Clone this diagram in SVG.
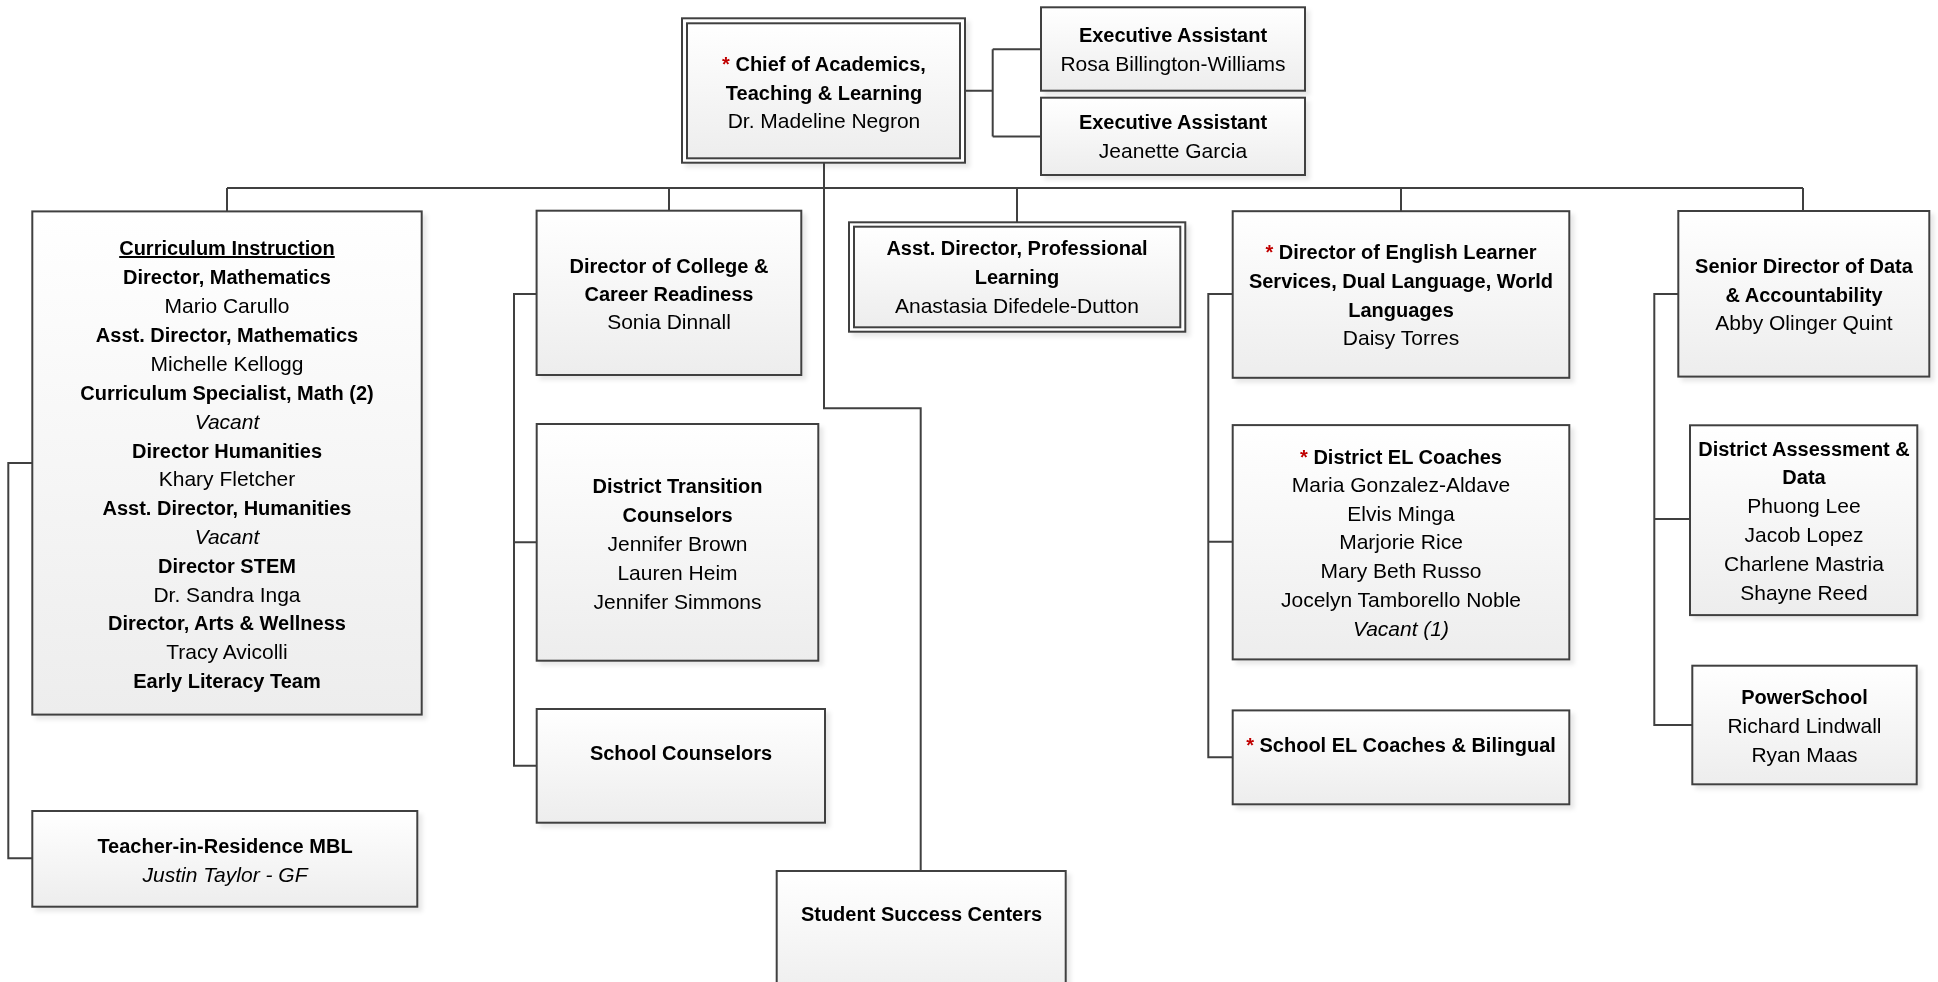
<svg xmlns="http://www.w3.org/2000/svg" width="1938" height="982" viewBox="0 0 1938 982">
<defs>
<linearGradient id="g" x1="0" y1="0" x2="0" y2="1">
<stop offset="0" stop-color="#ffffff"/>
<stop offset="1" stop-color="#ededed"/>
</linearGradient>
<filter id="sh" x="-5%" y="-5%" width="115%" height="115%">
<feDropShadow dx="4" dy="4" stdDeviation="2" flood-color="#000" flood-opacity="0.09"/>
</filter>
</defs>
<style>
.box{fill:url(#g);stroke:#404040;stroke-width:2}
.outer{fill:#fff;stroke:#404040;stroke-width:2}
.c{fill:none;stroke:#404040;stroke-width:2}
text{font-family:"Liberation Sans",Arial,sans-serif;text-anchor:middle;fill:#000}
.b{font-weight:bold;font-size:20px}
.r{font-size:21px}
.i{font-style:italic;font-size:21px}
.u{text-decoration:underline}
.red{fill:#c00000}
</style>
<rect width="1938" height="982" fill="#fff"/>
<g id="connectors">
<path class="c" d="M227,188 H1803 M227,188 V211.4 M669,188 V210.7 M1017,188 V222.3 M1401,188 V211.2 M1803,188 V211"/>
<path class="c" d="M824,162.7 V408.3 H920.7 V871"/>
<path class="c" d="M965,90.7 H992.7 M992.7,49.3 V136.5 M992.7,49.3 H1041 M992.7,136.5 H1041"/>
<path class="c" d="M32.3,463 H8.3 V858.3 H32.3"/>
<path class="c" d="M536.6,294 H514 V765.7 H536.7 M514,542.3 H536.7"/>
<path class="c" d="M1232.7,294 H1208.3 V757.3 H1232.7 M1208.3,541.8 H1232.7"/>
<path class="c" d="M1678.3,294 H1654.3 V725 H1692.3 M1654.3,519 H1690"/>
</g>
<g id="chief" filter="url(#sh)">
<rect class="outer" x="682" y="18.3" width="283" height="144.4"/>
<rect class="box" x="687" y="23.3" width="273" height="135"/>
<text class="b" x="824" y="70.7"><tspan class="red">*</tspan> Chief of Academics,</text>
<text class="b" x="824" y="99.5">Teaching &amp; Learning</text>
<text class="r" x="824" y="128.3">Dr. Madeline Negron</text>
</g>
<g id="ea1" filter="url(#sh)">
<rect class="box" x="1041" y="7.3" width="264" height="83.4"/>
<text class="b" x="1173" y="41.7">Executive Assistant</text>
<text class="r" x="1173" y="70.7">Rosa Billington-Williams</text>
</g>
<g id="ea2" filter="url(#sh)">
<rect class="box" x="1041" y="97.7" width="264" height="77.3"/>
<text class="b" x="1173" y="129">Executive Assistant</text>
<text class="r" x="1173" y="157.7">Jeanette Garcia</text>
</g>
<g id="curriculum" filter="url(#sh)">
<rect class="box" x="32.3" y="211.4" width="389.4" height="503.2"/>
<text class="b u" x="227" y="255">Curriculum Instruction</text>
<text class="b" x="227" y="284">Director, Mathematics</text>
<text class="r" x="227" y="313">Mario Carullo</text>
<text class="b" x="227" y="342">Asst. Director, Mathematics</text>
<text class="r" x="227" y="371">Michelle Kellogg</text>
<text class="b" x="227" y="399.5">Curriculum Specialist, Math (2)</text>
<text class="i" x="227" y="428.5">Vacant</text>
<text class="b" x="227" y="457.5">Director Humanities</text>
<text class="r" x="227" y="486">Khary Fletcher</text>
<text class="b" x="227" y="515">Asst. Director, Humanities</text>
<text class="i" x="227" y="544">Vacant</text>
<text class="b" x="227" y="572.5">Director STEM</text>
<text class="r" x="227" y="601.5">Dr. Sandra Inga</text>
<text class="b" x="227" y="630">Director, Arts &amp; Wellness</text>
<text class="r" x="227" y="659">Tracy Avicolli</text>
<text class="b" x="227" y="688">Early Literacy Team</text>
</g>
<g id="teacher" filter="url(#sh)">
<rect class="box" x="32.3" y="811" width="385" height="95.7"/>
<text class="b" x="225" y="852.7">Teacher-in-Residence MBL</text>
<text class="i" x="225" y="881.7">Justin Taylor - GF</text>
</g>
<g id="dccr" filter="url(#sh)">
<rect class="box" x="536.6" y="210.7" width="264.7" height="164.3"/>
<text class="b" x="669" y="272.7">Director of College &amp;</text>
<text class="b" x="669" y="301">Career Readiness</text>
<text class="r" x="669" y="329.3">Sonia Dinnall</text>
</g>
<g id="dtc" filter="url(#sh)">
<rect class="box" x="536.7" y="424" width="281.6" height="236.7"/>
<text class="b" x="677.5" y="492.7">District Transition</text>
<text class="b" x="677.5" y="521.7">Counselors</text>
<text class="r" x="677.5" y="550.7">Jennifer Brown</text>
<text class="r" x="677.5" y="580">Lauren Heim</text>
<text class="r" x="677.5" y="609">Jennifer Simmons</text>
</g>
<g id="schoolcounselors" filter="url(#sh)">
<rect class="box" x="536.7" y="709" width="288.3" height="113.7"/>
<text class="b" x="681" y="760">School Counselors</text>
</g>
<g id="ssc" filter="url(#sh)">
<rect class="box" x="776.7" y="871" width="289" height="130"/>
<text class="b" x="921.5" y="921">Student Success Centers</text>
</g>
<g id="asstpl" filter="url(#sh)">
<rect class="outer" x="849" y="222.3" width="336.3" height="109.4"/>
<rect class="box" x="854" y="226.7" width="326.3" height="100.6"/>
<text class="b" x="1017" y="255">Asst. Director, Professional</text>
<text class="b" x="1017" y="284.3">Learning</text>
<text class="r" x="1017" y="313.3">Anastasia Difedele-Dutton</text>
</g>
<g id="eldirector" filter="url(#sh)">
<rect class="box" x="1232.7" y="211.2" width="336.6" height="166.6"/>
<text class="b" x="1401" y="259.4"><tspan class="red">*</tspan> Director of English Learner</text>
<text class="b" x="1401" y="288">Services, Dual Language, World</text>
<text class="b" x="1401" y="316.5">Languages</text>
<text class="r" x="1401" y="345">Daisy Torres</text>
</g>
<g id="elcoaches" filter="url(#sh)">
<rect class="box" x="1232.7" y="425.1" width="336.6" height="234.3"/>
<text class="b" x="1401" y="463.5"><tspan class="red">*</tspan> District EL Coaches</text>
<text class="r" x="1401" y="492.1">Maria Gonzalez-Aldave</text>
<text class="r" x="1401" y="520.7">Elvis Minga</text>
<text class="r" x="1401" y="549.3">Marjorie Rice</text>
<text class="r" x="1401" y="577.9">Mary Beth Russo</text>
<text class="r" x="1401" y="606.5">Jocelyn Tamborello Noble</text>
<text class="i" x="1401" y="635.5">Vacant (1)</text>
</g>
<g id="schoolel" filter="url(#sh)">
<rect class="box" x="1232.7" y="710.4" width="336.6" height="93.9"/>
<text class="b" x="1401" y="752.4"><tspan class="red">*</tspan> School EL Coaches &amp; Bilingual</text>
</g>
<g id="seniordata" filter="url(#sh)">
<rect class="box" x="1678.3" y="211" width="251" height="165.6"/>
<text class="b" x="1804" y="273">Senior Director of Data</text>
<text class="b" x="1804" y="302">&amp; Accountability</text>
<text class="r" x="1804" y="330.4">Abby Olinger Quint</text>
</g>
<g id="assessment" filter="url(#sh)">
<rect class="box" x="1690" y="425.3" width="227.3" height="189.8"/>
<text class="b" x="1804" y="455.7">District Assessment &amp;</text>
<text class="b" x="1804" y="484.4">Data</text>
<text class="r" x="1804" y="513.4">Phuong Lee</text>
<text class="r" x="1804" y="542">Jacob Lopez</text>
<text class="r" x="1804" y="571">Charlene Mastria</text>
<text class="r" x="1804" y="599.5">Shayne Reed</text>
</g>
<g id="powerschool" filter="url(#sh)">
<rect class="box" x="1692.3" y="665.7" width="224.4" height="118.6"/>
<text class="b" x="1804.5" y="704">PowerSchool</text>
<text class="r" x="1804.5" y="733">Richard Lindwall</text>
<text class="r" x="1804.5" y="761.5">Ryan Maas</text>
</g>
</svg>
